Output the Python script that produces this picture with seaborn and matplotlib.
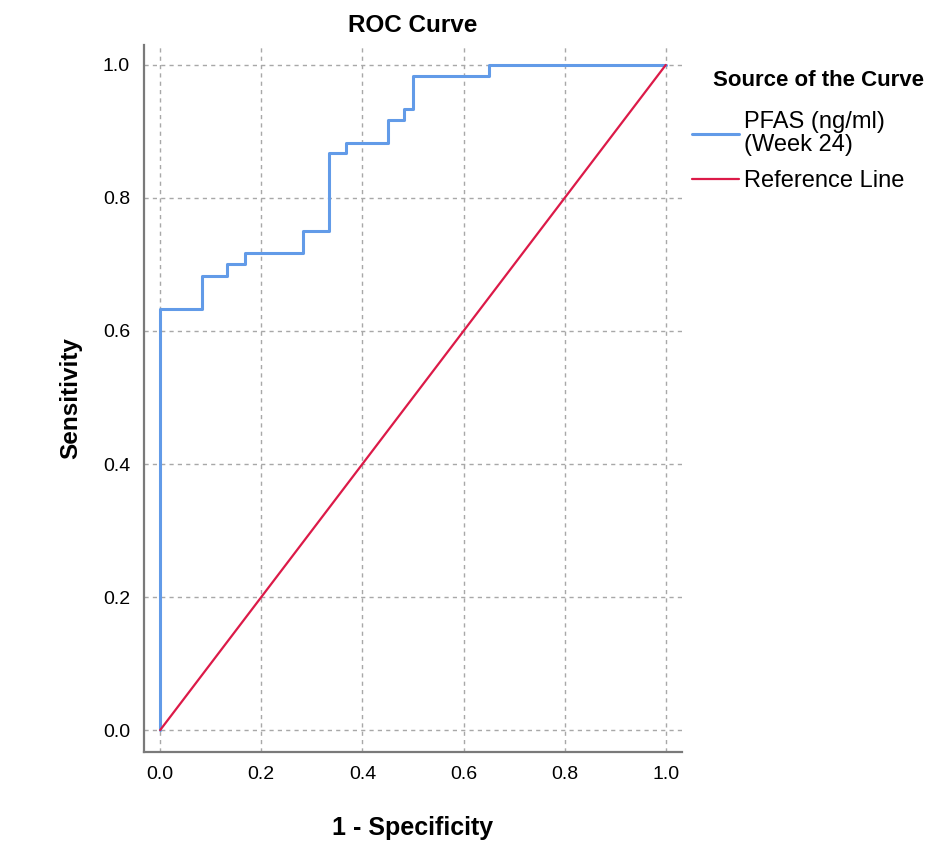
import matplotlib
matplotlib.use("Agg")
import matplotlib.pyplot as plt
import seaborn as sns
import pandas as pd

# ROC step coordinates
fpr = [0.0, 0.0, 0.083, 0.133, 0.167, 0.283, 0.333, 0.367, 0.45, 0.483, 0.5, 0.65, 1.0]
tpr = [0.0, 0.633, 0.683, 0.700, 0.717, 0.750, 0.867, 0.883, 0.917, 0.933, 0.983, 1.0, 1.0]
ref_x = [0.0, 1.0]
ref_y = [0.0, 1.0]
ticks = [0.0, 0.2, 0.4, 0.6, 0.8, 1.0]

curve_name = "PFAS (ng/ml)\n(Week 24)"
ref_name = "Reference Line"

roc_df = pd.DataFrame({"fpr": fpr, "tpr": tpr})
ref_df = pd.DataFrame({"fpr": ref_x, "tpr": ref_y})

sns.set_style("white")
plt.rcParams["font.family"] = ["Liberation Sans", "DejaVu Sans"]
plt.rcParams["text.color"] = "black"
plt.rcParams["axes.labelcolor"] = "black"
plt.rcParams["xtick.color"] = "black"
plt.rcParams["ytick.color"] = "black"

fig = plt.figure(figsize=(9.51, 8.65), dpi=100)
ax = fig.add_axes([0.1514, 0.1306, 0.5657, 0.8174])

sns.lineplot(data=roc_df, x="fpr", y="tpr", ax=ax, estimator=None, sort=False,
             drawstyle="steps-post", color="#629BE8", linewidth=2.2, label=curve_name)
sns.lineplot(data=ref_df, x="fpr", y="tpr", ax=ax, estimator=None, sort=False,
             color="#DC1A48", linewidth=1.6, label=ref_name)

ax.set_xlim(-0.032, 1.032)
ax.set_ylim(-0.033, 1.03)
ax.set_xticks(ticks)
ax.set_yticks(ticks)
ax.set_xticklabels([f"{t:.1f}" for t in ticks])
ax.set_yticklabels([f"{t:.1f}" for t in ticks])
ax.tick_params(axis="both", length=0, labelsize=14, pad=10)
ax.grid(True, color="#a8a8a8", linestyle=(0, (3, 3)), linewidth=1.0)

for side in ["top", "right"]:
    ax.spines[side].set_visible(False)
for side in ["left", "bottom"]:
    ax.spines[side].set_color("#7a7a7a")
    ax.spines[side].set_linewidth(1.6)

ax.set_xlabel("1 - Specificity", fontsize=18, fontweight="bold", labelpad=24)
ax.set_ylabel("Sensitivity", fontsize=17.5, fontweight="bold", labelpad=15)
ax.set_title("ROC Curve", fontsize=17.5, fontweight="bold", pad=9)

# legend: title drawn separately so it sits right of the handles, as in the original
fig.text(713 / 951, 1 - 80 / 865, "Source of the Curve", fontsize=16,
         fontweight="bold", ha="left", va="center")
handles, labels = ax.get_legend_handles_labels()
ax.get_legend().remove()
leg = fig.legend(handles, labels, loc="upper left", bbox_to_anchor=(0.7277, 0.872),
                 frameon=False, fontsize=17, handlelength=2.0, handletextpad=0.2,
                 labelspacing=0.6, borderaxespad=0, borderpad=0)
for t in leg.get_texts():
    t.set_linespacing(1.08)

fig.savefig("out.png", dpi=100)
